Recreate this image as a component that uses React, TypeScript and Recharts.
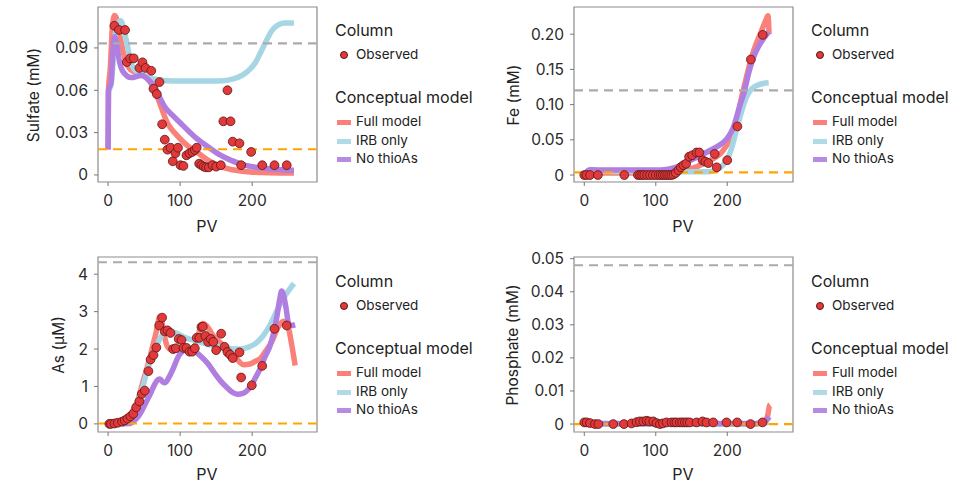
import { ComposedChart, Line, Scatter, XAxis, YAxis, ReferenceLine, ReferenceArea } from 'recharts'

type Pt = [number, number]

// ---- Sulfate (mM) ----
const sulfateObserved: Pt[] = [
  [8.8, 0.1057], [15, 0.1027], [23.6, 0.1027], [26, 0.08], [30.6, 0.0826], [35.6, 0.0826],
  [43.5, 0.0758], [47.7, 0.0798], [52, 0.0758], [60, 0.0738], [63, 0.061], [67.6, 0.0573],
  [71.3, 0.0658], [75, 0.0359], [78.7, 0.025], [82.4, 0.0179], [86.6, 0.0193], [89.8, 0.0097],
  [93.5, 0.0154], [97, 0.0193], [100.5, 0.0069], [104.6, 0.0064], [108.8, 0.0139], [113, 0.0154],
  [117, 0.0163], [120.4, 0.0177], [123, 0.0193], [126.4, 0.008], [129.6, 0.0069], [132.9, 0.0059],
  [136, 0.0054], [139.8, 0.0054], [144.9, 0.0069], [150, 0.0059], [156.5, 0.0069], [160, 0.038],
  [165.7, 0.06], [170, 0.038], [173, 0.0236], [182.4, 0.0224], [184.7, 0.0069], [198.6, 0.0163],
  [214, 0.0069], [231, 0.0069], [248, 0.0069],
]
const sulfateFull: Pt[] = [
  [0, 0.018], [0.5, 0.06], [3, 0.075], [6, 0.105], [9, 0.113], [11, 0.112], [14, 0.104],
  [18.5, 0.093], [23, 0.083], [28, 0.0765], [36, 0.073], [46, 0.0717], [55, 0.068], [62.5, 0.0623],
  [67, 0.057], [72, 0.0505], [78, 0.042], [83, 0.0363], [92, 0.03], [102, 0.0246], [112, 0.02],
  [125, 0.0155], [139, 0.0104], [155, 0.0062], [175, 0.0035], [197, 0.0021], [225, 0.0015], [258, 0.0013],
]
const sulfateIrb: Pt[] = [
  [0.5, 0.06], [3, 0.062], [5, 0.067], [7, 0.08], [9, 0.095], [13, 0.106], [17.5, 0.1095],
  [21, 0.105], [25.5, 0.095], [32, 0.079], [38, 0.074], [46, 0.0717], [55, 0.069], [65, 0.068],
  [80, 0.0668], [100, 0.0665], [140, 0.0665], [160, 0.0667], [174, 0.068], [186, 0.0705],
  [197, 0.075], [205, 0.08], [211, 0.086], [220, 0.0954], [227, 0.102], [232, 0.1048],
  [238, 0.1068], [245, 0.1076], [258, 0.1077],
]
const sulfateNoThio: Pt[] = [
  [0, 0.018], [0.5, 0.06], [4, 0.065], [7, 0.09], [9, 0.098], [12, 0.092], [16, 0.08], [21, 0.073],
  [32, 0.069], [46, 0.0705], [55, 0.068], [62, 0.064], [69, 0.0576], [79, 0.048], [90, 0.042],
  [100, 0.037], [112, 0.031], [125, 0.025], [139, 0.0198], [156, 0.014], [170, 0.0105], [183, 0.008],
  [200, 0.0058], [220, 0.0045], [240, 0.0037], [258, 0.0033],
]

// ---- Fe (mM) ----
const feObserved: Pt[] = [
  [0, 0], [3, 0], [8, 0], [19, 0], [56, 0], [75, 0], [78, 0], [81, 0], [84, 0], [88, 0], [92, 0],
  [96, 0], [100, 0], [104, 0], [107, 0], [110, 0], [113, 0], [116, 0], [119, 0], [122, 0], [125, 0.001],
  [128, 0.003], [131.7, 0.007], [135, 0.011], [138.7, 0.014], [142.4, 0.016], [146.6, 0.026],
  [151, 0.028], [157, 0.032], [161, 0.032], [165.7, 0.021], [169.4, 0.019], [173.6, 0.017],
  [182.4, 0.03], [185.3, 0.011], [200, 0.021], [214.2, 0.069], [233, 0.164], [249.7, 0.199],
]
const feFull: Pt[] = [
  [3, 0.003], [50, 0.003], [100, 0.003], [125, 0.004], [140, 0.007], [155, 0.011], [170, 0.018],
  [180, 0.023], [190, 0.03], [199, 0.042], [205, 0.052], [210, 0.065], [215, 0.085], [220, 0.11],
  [226, 0.135], [232, 0.16], [240, 0.185], [248, 0.205], [254, 0.22], [257, 0.226], [258.5, 0.2],
]
const feIrb: Pt[] = [
  [5, 0.006], [9, 0.008], [14, 0.0075], [20, 0.006], [40, 0.005], [100, 0.0048], [150, 0.0046],
  [175, 0.0048], [185, 0.007], [193, 0.013], [200, 0.022], [206, 0.038], [213, 0.064], [220, 0.09],
  [227, 0.111], [234, 0.122], [241, 0.127], [250, 0.13], [258, 0.131],
]
const feNoThio: Pt[] = [
  [3, 0.004], [6, 0.007], [10, 0.0075], [20, 0.007], [60, 0.007], [100, 0.007], [115, 0.008],
  [125, 0.01], [135, 0.014], [145, 0.019], [155, 0.024], [165, 0.029], [180, 0.037], [190, 0.043],
  [199, 0.051], [205, 0.06], [209, 0.0686], [213, 0.082], [218, 0.1], [223, 0.115], [230, 0.145],
  [237, 0.168], [244, 0.183], [251, 0.194], [258, 0.203],
]

// ---- As (µM) ----
const asObserved: Pt[] = [
  [1.8, 0], [4, 0], [8.8, 0.01], [13.4, 0.03], [19.4, 0.06], [23, 0.09], [26.9, 0.14], [31, 0.2],
  [35, 0.27], [39, 0.44], [43.5, 0.6], [46.8, 0.8], [51, 0.89], [56, 1.41], [59, 1.72], [63, 1.84],
  [67, 2.04], [71, 2.63], [75, 2.84], [78.7, 2.47], [82.4, 2.5], [86.6, 2.43], [90.3, 2.0], [94, 2.02],
  [98, 2.27], [102, 2.24], [104.6, 2.03], [108.8, 2.03], [113, 1.93], [116.7, 1.93], [120.4, 2.02],
  [123, 2.3], [126.8, 2.3], [129.6, 2.59], [131.5, 2.6], [135, 2.35], [138.9, 2.19], [142.6, 2.27],
  [146, 2.19], [150, 1.97], [157, 2.41], [161.6, 2.06], [165.7, 1.92], [169.4, 1.85], [173, 1.76],
  [182.4, 1.91], [184.7, 1.24], [199.5, 1.03], [214, 1.55], [231, 2.54], [248, 2.63],
]
const asFull: Pt[] = [
  [0, 0], [15, 0.02], [22, 0.08], [28, 0.18], [34, 0.35], [41.7, 0.66], [48, 1.1], [55, 1.56],
  [61, 2.0], [67, 2.47], [71.8, 2.87], [75, 2.7], [78.7, 2.3], [83, 2.05], [88, 1.98], [95, 2.02],
  [105, 2.0], [115, 1.98], [122, 2.15], [127, 2.5], [132, 2.68], [137, 2.62], [145, 2.38], [157, 2.15],
  [167, 1.95], [176, 1.79], [188, 1.58], [197, 1.6], [205, 1.68], [211, 1.74], [220, 1.98], [227, 2.19],
  [236.5, 2.6], [243.5, 2.74], [250.5, 2.55], [255, 2.1], [259.7, 1.56],
]
const asIrb: Pt[] = [
  [0, 0], [15, 0.01], [22, 0.05], [28, 0.13], [32, 0.22], [38, 0.45], [46, 0.84], [55, 1.47],
  [60, 1.75], [65, 1.95], [70, 2.2], [75, 2.38], [80, 2.46], [88, 2.47], [95, 2.42], [105, 2.32],
  [120, 2.23], [140, 2.12], [160, 2.05], [175, 2.0], [185, 2.0], [195, 2.05], [205, 2.15], [215, 2.35],
  [225, 2.65], [235, 3.05], [245, 3.4], [252, 3.6], [258, 3.75],
]
const asNoThio: Pt[] = [
  [0, 0], [30, 0.01], [36, 0.08], [42, 0.2], [46, 0.32], [52, 0.55], [60, 0.86], [65, 1.07],
  [69, 1.18], [72, 1.2], [76, 1.12], [79, 1.1], [85.7, 1.29], [92, 1.55], [97, 1.78], [104, 1.95],
  [111, 2.01], [120, 1.95], [128, 1.82], [139, 1.6], [148, 1.35], [156, 1.15], [165, 0.97], [172, 0.85],
  [179, 0.79], [188, 0.82], [197, 0.98], [205, 1.25], [211, 1.47], [218, 1.8], [225, 2.1], [234, 2.83],
  [238, 3.3], [241, 3.55], [244, 3.4], [247, 3.1], [250.5, 2.69], [254, 2.63], [259.7, 2.65],
]

// ---- Phosphate (mM) ----
const phObserved: Pt[] = [
  [0, 0.0005], [3.3, 0.0005], [8, 0.0003], [15, 0], [19.6, 0], [40.5, 0], [55.5, 0], [66.2, 0.0002],
  [73.2, 0.0006], [77.8, 0.0008], [82.5, 0.0008], [87.1, 0.001], [90.9, 0.0008], [96.5, 0.0008],
  [101.1, 0.0003], [105.8, 0], [110, 0.0002], [115.1, 0.0005], [122, 0.0005], [126, 0.0005],
  [129, 0.0005], [133.7, 0.0005], [137, 0.0005], [140.7, 0.0005], [144, 0.0005], [147.7, 0.0005],
  [157, 0.0005], [165.4, 0.0008], [171, 0.0005], [180.3, 0.0005], [199, 0.0005], [213.9, 0.0005],
  [232.6, 0], [249.4, 0.0005],
]
const phFull: Pt[] = [[0, 0], [240, 0], [250, 0.0003], [254, 0.001], [257, 0.003], [259, 0.0055], [260, 0.0058]]
const phIrb: Pt[] = [[0, 0], [200, 0], [250, 0.0002], [258, 0.0005]]
const phNoThio: Pt[] = [[0, 0.0002], [240, 0.0002], [250, 0.0005], [255, 0.0012], [259, 0.0022]]

const RED = '#f8736c'
const BLUE = '#a6d6e3'
const PURPLE = '#b07ee0'
const FONT = 'Inter, "Noto Sans", sans-serif'

const toRows = (pts: Pt[]) => pts.map(([x, y]) => ({ x, y }))

const fmt2 = (v: number) => (v === 0 ? '0' : v.toFixed(2))
const fmt0 = (v: number) => String(v)

type PanelProps = {
  left: number
  top: number
  yWidth: number
  marginTop: number
  marginRight: number
  xDomain: [number, number]
  yDomain: [number, number]
  yTicks: number[]
  yFmt: (v: number) => string
  grayY: number
  orangeY: number
  observed: Pt[]
  full: Pt[]
  irb: Pt[]
  noThio: Pt[]
}

function Dot(p: any) {
  return <circle cx={p.cx} cy={p.cy} r={4.4} fill="#e23a3a" stroke="#5b1414" strokeWidth={0.8} />
}

function Panel(props: PanelProps) {
  const { xDomain, yDomain } = props
  const tickStyle = { fontSize: 15.5, fill: '#2a2a2a', fontFamily: FONT }
  return (
    <div style={{ position: 'absolute', left: props.left, top: props.top }}>
      <ComposedChart
        width={330}
        height={240}
        margin={{ top: props.marginTop, right: props.marginRight, bottom: 240 - props.marginTop - 175 - 30, left: 0 }}
      >
        <XAxis
          type="number"
          dataKey="x"
          domain={xDomain}
          allowDataOverflow
          ticks={[0, 100, 200]}
          tickSize={4}
          tickMargin={9}
          height={30}
          axisLine={false}
          tickLine={{ stroke: '#777' }}
          tick={tickStyle}
        />
        <YAxis
          type="number"
          dataKey="y"
          domain={yDomain}
          allowDataOverflow
          ticks={props.yTicks}
          tickFormatter={props.yFmt}
          width={props.yWidth}
          tickSize={4}
          tickMargin={6}
          axisLine={false}
          tickLine={{ stroke: '#777' }}
          tick={tickStyle}
        />
        <Line data={toRows(props.full)} dataKey="y" type="monotone" stroke={RED} strokeOpacity={0.9} strokeWidth={5.5} dot={false} isAnimationActive={false} />
        <Line data={toRows(props.irb)} dataKey="y" type="monotone" stroke={BLUE} strokeWidth={5.5} dot={false} isAnimationActive={false} />
        <Line data={toRows(props.noThio)} dataKey="y" type="monotone" stroke={PURPLE} strokeWidth={5.5} dot={false} isAnimationActive={false} />
        <Scatter data={toRows(props.observed)} dataKey="y" shape={Dot} isAnimationActive={false} />
        <ReferenceLine y={props.grayY} stroke="#ababab" strokeWidth={2.2} strokeDasharray="9 6" ifOverflow="visible" />
        <ReferenceLine y={props.orangeY} stroke="#ffa500" strokeWidth={2.2} strokeDasharray="9 6" ifOverflow="visible" />
        <ReferenceArea x1={xDomain[0]} x2={xDomain[1]} y1={yDomain[0]} y2={yDomain[1]} fill="none" stroke="#8c8c8c" strokeWidth={1.2} ifOverflow="visible" />
      </ComposedChart>
    </div>
  )
}

function Legend({ left, top }: { left: number; top: number }) {
  const head = { position: 'absolute' as const, fontSize: 16, color: '#222', whiteSpace: 'nowrap' as const }
  const item = { position: 'absolute' as const, fontSize: 13.5, color: '#222', whiteSpace: 'nowrap' as const, left: 21 }
  const swatch = (c: string, y: number) => (
    <div style={{ position: 'absolute', left: 2, top: y - 2, width: 14, height: 5, background: c, opacity: 0.9 }} />
  )
  return (
    <div style={{ position: 'absolute', left, top, fontFamily: FONT }}>
      <div style={{ ...head, top: -10 }}>Column</div>
      <div style={{ position: 'absolute', left: 5, top: 21, width: 8, height: 8, borderRadius: 4, background: '#e23a3a', border: '0.8px solid #5b1414', boxSizing: 'border-box' }} />
      <div style={{ ...item, top: 16 }}>Observed</div>
      <div style={{ ...head, top: 57 }}>Conceptual model</div>
      {swatch(RED, 92)}
      <div style={{ ...item, top: 83 }}>Full model</div>
      {swatch(BLUE, 111)}
      <div style={{ ...item, top: 102 }}>IRB only</div>
      {swatch(PURPLE, 129)}
      <div style={{ ...item, top: 120 }}>No thioAs</div>
    </div>
  )
}

function AxisTitle({ x, y, text, rotate }: { x: number; y: number; text: string; rotate?: boolean }) {
  return (
    <div
      style={{
        position: 'absolute',
        left: x,
        top: y,
        transform: `translate(-50%, -50%)${rotate ? ' rotate(-90deg)' : ''}`,
        fontFamily: FONT,
        fontSize: rotate ? 15.5 : 16,
        color: '#222',
        whiteSpace: 'nowrap',
      }}
    >
      {text}
    </div>
  )
}

export default function App() {
  const xl: [number, number] = [-14, 290]
  const xr: [number, number] = [-14.4, 292]
  return (
    <div style={{ position: 'absolute', left: 0, top: 0, width: 968, height: 484, background: '#fff', overflow: 'hidden' }}>
      <Panel left={0} top={0} yWidth={98} marginTop={7} marginRight={13} xDomain={xl} yDomain={[-0.005, 0.119]}
        yTicks={[0, 0.03, 0.06, 0.09]} yFmt={fmt2} grayY={0.0932} orangeY={0.0182}
        observed={sulfateObserved} full={sulfateFull} irb={sulfateIrb} noThio={sulfateNoThio} />
      <Panel left={480} top={0} yWidth={94} marginTop={7} marginRight={17} xDomain={xr} yDomain={[-0.0099, 0.2386]}
        yTicks={[0, 0.05, 0.1, 0.15, 0.2]} yFmt={fmt2} grayY={0.1203} orangeY={0.0038}
        observed={feObserved} full={feFull} irb={feIrb} noThio={feNoThio} />
      <Panel left={0} top={245} yWidth={98} marginTop={12} marginRight={13} xDomain={xl} yDomain={[-0.217, 4.46]}
        yTicks={[0, 1, 2, 3, 4]} yFmt={fmt0} grayY={4.32} orangeY={0.01}
        observed={asObserved} full={asFull} irb={asIrb} noThio={asNoThio} />
      <Panel left={480} top={245} yWidth={94} marginTop={12} marginRight={17} xDomain={xr} yDomain={[-0.0024, 0.0505]}
        yTicks={[0, 0.01, 0.02, 0.03, 0.04, 0.05]} yFmt={fmt2} grayY={0.048} orangeY={0}
        observed={phObserved} full={phFull} irb={phIrb} noThio={phNoThio} />

      <AxisTitle x={33} y={95} text="Sulfate (mM)" rotate />
      <AxisTitle x={513} y={95} text="Fe (mM)" rotate />
      <AxisTitle x={58} y={345} text="As (µM)" rotate />
      <AxisTitle x={512} y={345} text="Phosphate (mM)" rotate />
      <AxisTitle x={207} y={226} text="PV" />
      <AxisTitle x={683} y={226} text="PV" />
      <AxisTitle x={207} y={474} text="PV" />
      <AxisTitle x={683} y={474} text="PV" />

      <Legend left={335} top={30} />
      <Legend left={811} top={30} />
      <Legend left={335} top={281} />
      <Legend left={811} top={281} />
    </div>
  )
}
